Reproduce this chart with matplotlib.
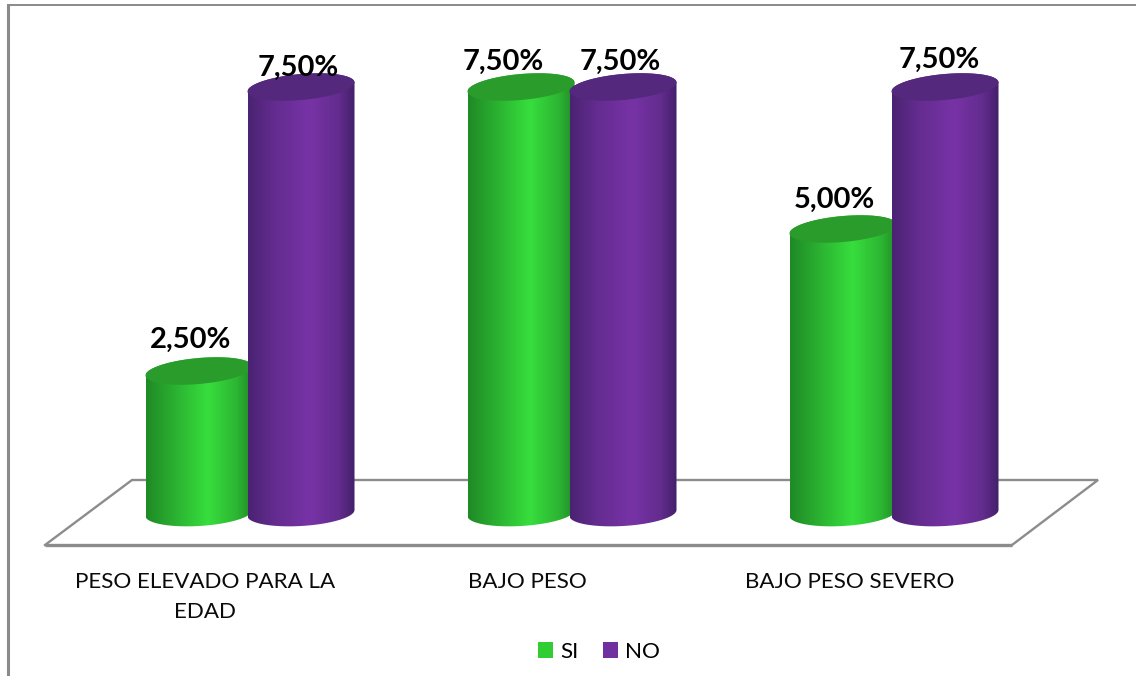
import matplotlib
matplotlib.use("Agg")
import matplotlib.pyplot as plt
import numpy as np
from matplotlib.colors import LinearSegmentedColormap
from matplotlib.lines import Line2D
from matplotlib.patches import Patch, PathPatch, Polygon
from matplotlib.path import Path

# datos del grafico
categorias = ["PESO ELEVADO PARA LA\nEDAD", "BAJO PESO", "BAJO PESO SEVERO"]
si = [2.5, 7.5, 5.0]
no = [7.5, 7.5, 7.5]

# desplazamiento manual de las etiquetas de valor (px)
offset_si = [(-8, 31), (-18, 25), (-9, 29)]
offset_no = [(-3, 19), (-3, 25), (-6, 27)]

W, H = 1136, 676
PX_CAT = 322.0    # px entre categorias
PX_PCT = 56.8     # px por cada 1%
X_CAT0 = 250.0    # px del centro de la primera categoria
Y_CERO = 513.0    # px del valor 0
Y_PISO = 545.0    # px del frente del piso

plt.rcParams["font.family"] = ["Lato", "DejaVu Sans"]

fig = plt.figure(figsize=(W / 100, H / 100), dpi=100)
ax = fig.add_axes([0, 1 - Y_PISO / H, 1, Y_PISO / H])
ax.set_facecolor("none")

grad_si = LinearSegmentedColormap.from_list(
    "si", [(0, "#1f8a26"), (0.25, "#2aae30"), (0.58, "#37de3d"), (0.85, "#2cb532"), (1, "#1f8a26")])
grad_no = LinearSegmentedColormap.from_list(
    "no", [(0, "#4a2372"), (0.25, "#642c90"), (0.58, "#7733a6"), (0.85, "#632c8e"), (1, "#43206a")])


def cilindro(cx, valor, cmap, tapa, z):
    # radios en unidades de datos
    a = 53.5 / PX_CAT
    b_top = 13.0 / PX_PCT
    k_top = 4.5 / PX_PCT
    b_base = 13.0 / PX_PCT
    k_base = 3.0 / PX_PCT

    t = np.linspace(0, np.pi, 60)
    # mitad inferior de la base, de izquierda a derecha
    bx = cx - a * np.cos(t)
    by = -b_base * np.sin(t) - k_base * np.cos(t)
    # mitad superior de la tapa, de derecha a izquierda
    tx = cx + a * np.cos(t)
    ty = valor + b_top * np.sin(t) + k_top * np.cos(t)
    cuerpo = np.column_stack([np.r_[bx, tx], np.r_[by, ty]])

    clip = PathPatch(Path(np.vstack([cuerpo, cuerpo[:1]])), transform=ax.transData)
    grad = np.linspace(0, 1, 256).reshape(1, -1)
    im = ax.imshow(grad, cmap=cmap, aspect="auto", interpolation="bilinear",
                   extent=[cx - a, cx + a, -0.5, valor + 0.5], zorder=z)
    im.set_clip_path(clip)

    # tapa superior
    tt = np.linspace(0, 2 * np.pi, 120)
    cap = np.column_stack([cx + a * np.cos(tt),
                           valor + b_top * np.sin(tt) + k_top * np.cos(tt)])
    ax.add_patch(Polygon(cap, closed=True, facecolor=tapa, edgecolor="none", zorder=z + 0.1))


def a_fig(x, y):
    return x / W, 1 - y / H


# piso: va detras de los cilindros
piso = [(45, 545), (1012, 545), (1098, 480), (132, 480), (45, 545)]
px, py = zip(*[a_fig(*p) for p in piso])
ax.add_line(Line2D(px[:2], py[:2], color="#8c8c8c", lw=2.4, transform=fig.transFigure,
                   clip_on=False, zorder=1, solid_capstyle="butt"))
ax.add_line(Line2D(px[1:], py[1:], color="#8c8c8c", lw=1.7, transform=fig.transFigure,
                   clip_on=False, zorder=1, solid_joinstyle="miter"))

sep = 51.0 / PX_CAT
for i in range(len(categorias)):
    cilindro(i - sep, si[i], grad_si, "#2a9c2c", 2 + i)
    cilindro(i + sep, no[i], grad_no, "#54287c", 2.5 + i)


def etiqueta(cx, valor, off):
    txt = f"{valor:.2f}".replace(".", ",") + "%"
    ax.annotate(txt, (cx, valor), xytext=off, textcoords="offset pixels",
                ha="center", va="center", fontsize=21, fontweight="bold",
                color="black", zorder=20)


for i in range(len(categorias)):
    etiqueta(i - sep, si[i], offset_si[i])
    etiqueta(i + sep, no[i], offset_no[i])

# limites: se fijan despues de imshow
ax.set_xlim(-X_CAT0 / PX_CAT, (W - X_CAT0) / PX_CAT)
ax.set_ylim(-(Y_PISO - Y_CERO) / PX_PCT, Y_CERO / PX_PCT)

ax.set_xticks(np.arange(len(categorias)) - 44.5 / PX_CAT)
ax.set_xticklabels(categorias, fontsize=16.1, color="#0a0a0a", linespacing=1.6)
ax.tick_params(axis="x", length=0, pad=19.5)
ax.set_yticks([])
for s in ax.spines.values():
    s.set_visible(False)

# leyenda
handles = [Patch(facecolor="#32cd32", label="SI"), Patch(facecolor="#7030a0", label="NO")]
fig.legend(handles=handles, ncols=2, frameon=False, fontsize=16.1,
           loc="center", bbox_to_anchor=a_fig(599, 652), handlelength=0.68, handleheight=0.68,
           handletextpad=0.3, columnspacing=1.1)

# borde del area del grafico, solo arriba e izquierda
fig.add_artist(Line2D([8 / W, 8 / W], [0, 1 - 4 / H], color="#8a8a8a", lw=2.2,
                      solid_capstyle="butt"))
fig.add_artist(Line2D([7 / W, 1], [1 - 5 / H, 1 - 5 / H], color="#8a8a8a", lw=1.4,
                      solid_capstyle="butt"))

fig.savefig("out.png", dpi=100)
